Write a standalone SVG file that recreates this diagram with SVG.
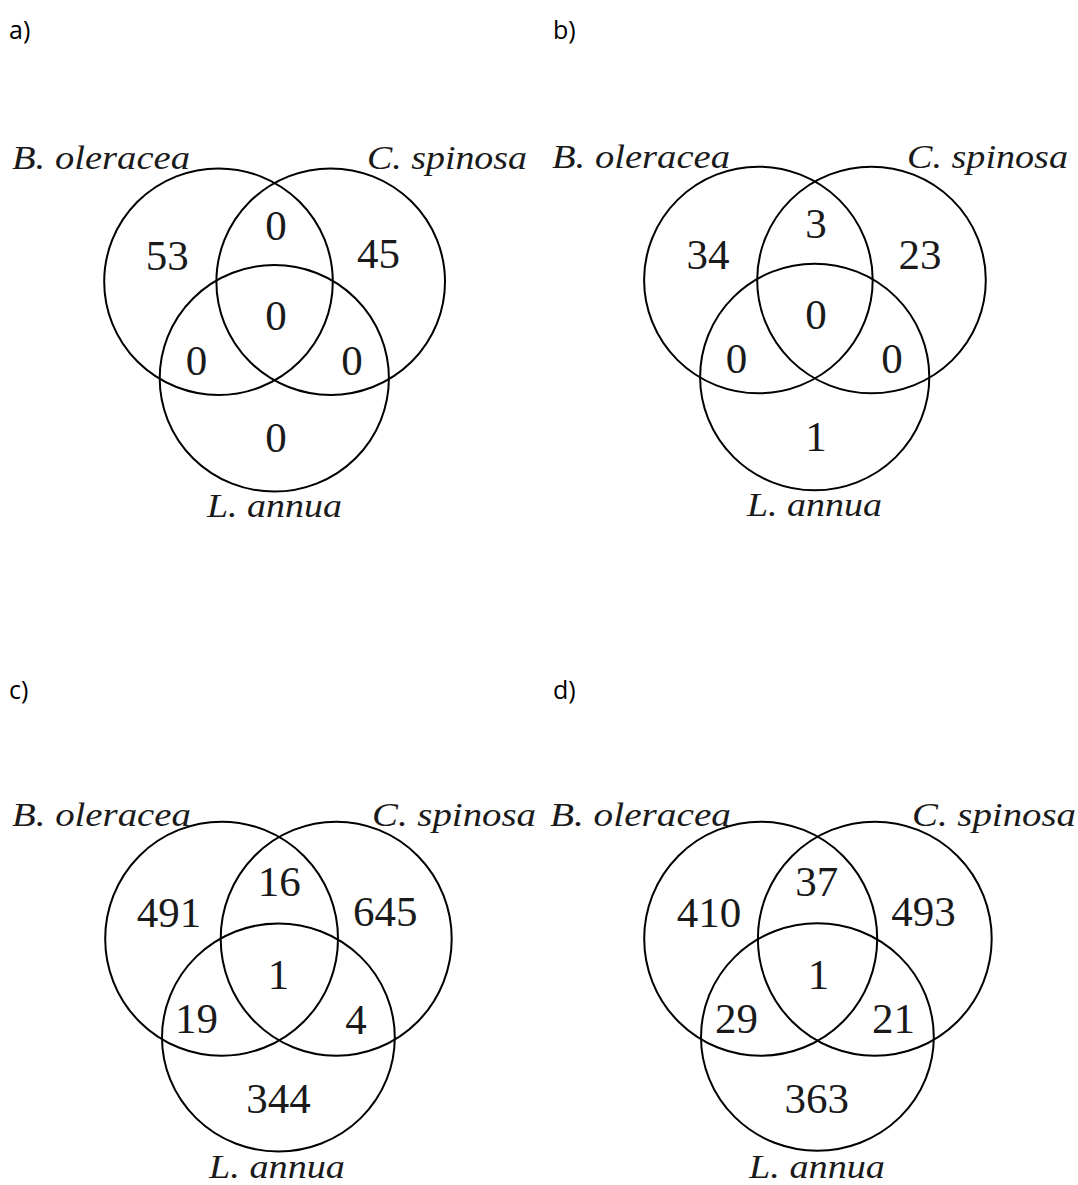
<svg xmlns="http://www.w3.org/2000/svg" width="1078" height="1185" viewBox="0 0 1078 1185">
<style>
.c{fill:none;stroke:#000;stroke-width:2}
.lab{font-family:"Liberation Serif","Times New Roman",serif;font-style:italic;font-size:34px;fill:#1a1a1a}
.n{font-family:"Liberation Serif","Times New Roman",serif;font-size:43px;fill:#1a1a1a;text-anchor:middle}
.p{font-family:"Open Sans","Noto Sans",sans-serif;font-size:25px;fill:#000}
</style>
<rect width="1078" height="1185" fill="#fff"/>
<g id="panel-letters">
<text class="p" x="9" y="39">a)</text>
<text class="p" x="553" y="39">b)</text>
<text class="p" x="9" y="699">c)</text>
<text class="p" x="553" y="699">d)</text>
</g>
<g id="panel-a">
<ellipse class="c" cx="218.5" cy="281.7" rx="114.3" ry="113.3"/>
<ellipse class="c" cx="330.7" cy="281.7" rx="114.3" ry="113.3"/>
<ellipse class="c" cx="274.3" cy="378.3" rx="114.6" ry="113.3"/>
<text class="lab" x="12" y="169" textLength="178" lengthAdjust="spacingAndGlyphs">B. oleracea</text>
<text class="lab" x="367" y="169" textLength="160" lengthAdjust="spacingAndGlyphs">C. spinosa</text>
<text class="lab" x="207" y="517" textLength="135" lengthAdjust="spacingAndGlyphs">L. annua</text>
<text class="n" x="167.3" y="270">53</text>
<text class="n" x="276" y="240">0</text>
<text class="n" x="378.5" y="268">45</text>
<text class="n" x="276" y="330">0</text>
<text class="n" x="196.5" y="375">0</text>
<text class="n" x="352" y="375">0</text>
<text class="n" x="276" y="452">0</text>
</g>
<g id="panel-b">
<ellipse class="c" cx="758.4" cy="280" rx="114.3" ry="113.3"/>
<ellipse class="c" cx="871.5" cy="280" rx="114.3" ry="113.3"/>
<ellipse class="c" cx="814.7" cy="377" rx="114.6" ry="113.3"/>
<text class="lab" x="552" y="168" textLength="178" lengthAdjust="spacingAndGlyphs">B. oleracea</text>
<text class="lab" x="907" y="168" textLength="161" lengthAdjust="spacingAndGlyphs">C. spinosa</text>
<text class="lab" x="747" y="516" textLength="135" lengthAdjust="spacingAndGlyphs">L. annua</text>
<text class="n" x="708" y="269">34</text>
<text class="n" x="816" y="238">3</text>
<text class="n" x="920" y="269">23</text>
<text class="n" x="816" y="329">0</text>
<text class="n" x="736.5" y="373">0</text>
<text class="n" x="892" y="373">0</text>
<text class="n" x="816" y="451">1</text>
</g>
<g id="panel-c">
<ellipse class="c" cx="221.6" cy="938.7" rx="116.4" ry="117"/>
<ellipse class="c" cx="336.2" cy="938.7" rx="115.5" ry="117"/>
<ellipse class="c" cx="278.4" cy="1037.5" rx="116.4" ry="114"/>
<text class="lab" x="12" y="826" textLength="179" lengthAdjust="spacingAndGlyphs">B. oleracea</text>
<text class="lab" x="372" y="826" textLength="164" lengthAdjust="spacingAndGlyphs">C. spinosa</text>
<text class="lab" x="209" y="1178" textLength="136" lengthAdjust="spacingAndGlyphs">L. annua</text>
<text class="n" x="169" y="927">491</text>
<text class="n" x="279.3" y="896">16</text>
<text class="n" x="385.3" y="926">645</text>
<text class="n" x="278.4" y="989">1</text>
<text class="n" x="196.5" y="1033">19</text>
<text class="n" x="356" y="1034">4</text>
<text class="n" x="278.4" y="1113">344</text>
</g>
<g id="panel-d">
<ellipse class="c" cx="760.7" cy="938.7" rx="116.5" ry="117"/>
<ellipse class="c" cx="874.8" cy="938.7" rx="116.9" ry="117"/>
<ellipse class="c" cx="817.4" cy="1037" rx="116.4" ry="113.7"/>
<text class="lab" x="550" y="826" textLength="181" lengthAdjust="spacingAndGlyphs">B. oleracea</text>
<text class="lab" x="912" y="826" textLength="164" lengthAdjust="spacingAndGlyphs">C. spinosa</text>
<text class="lab" x="749" y="1178" textLength="136" lengthAdjust="spacingAndGlyphs">L. annua</text>
<text class="n" x="709" y="927">410</text>
<text class="n" x="816.7" y="896">37</text>
<text class="n" x="923.6" y="926">493</text>
<text class="n" x="818.4" y="989">1</text>
<text class="n" x="736.6" y="1033">29</text>
<text class="n" x="893.4" y="1033">21</text>
<text class="n" x="816.7" y="1113">363</text>
</g>
</svg>
